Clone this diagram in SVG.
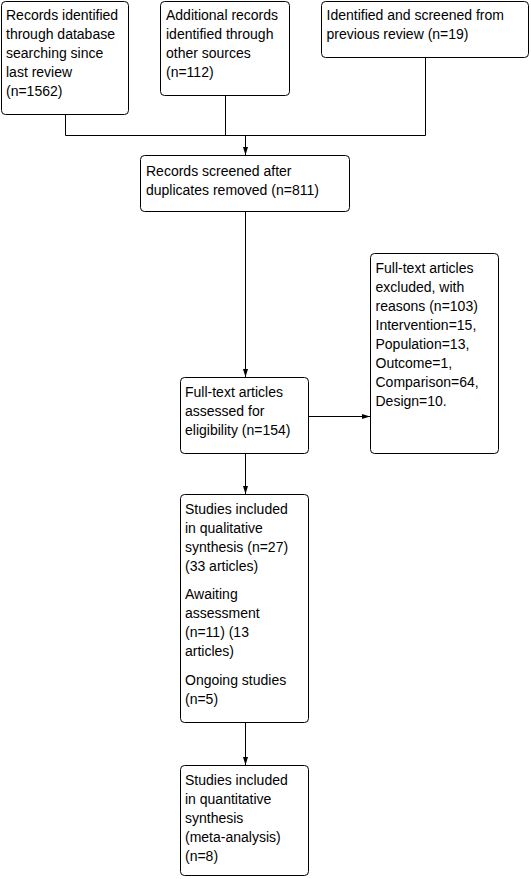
<svg xmlns="http://www.w3.org/2000/svg" width="531" height="879" viewBox="0 0 531 879">
<defs>
<marker id="arr" viewBox="0 0 8 6" refX="8" refY="3" markerWidth="8" markerHeight="6" markerUnits="userSpaceOnUse" orient="auto">
<path d="M0,0.5 L8,3 L0,5.5 Z" fill="#000"/>
</marker>
</defs>
<style>
rect.box{fill:#fff;stroke:#000;stroke-width:1}
text{font-family:"Liberation Sans",Arial,sans-serif;font-size:14px;fill:#000}
.ln{fill:none;stroke:#000;stroke-width:1}
</style>
<rect width="531" height="879" fill="#fff"/>
<g id="connectors">
<path class="ln" d="M65.5,114.5 V135.5 M225.5,95.5 V135.5 M425.5,57.5 V135.5 M65.5,135.5 H425.5"/>
<path class="ln" d="M245.5,135.5 V155" marker-end="url(#arr)"/>
<path class="ln" d="M245.5,211.5 V377" marker-end="url(#arr)"/>
<path class="ln" d="M308.5,416.5 H370" marker-end="url(#arr)"/>
<path class="ln" d="M245.5,453.5 V494" marker-end="url(#arr)"/>
<path class="ln" d="M245.5,722.5 V765" marker-end="url(#arr)"/>
</g>
<g id="n1">
<rect class="box" x="1.5" y="1.5" width="127" height="113" rx="4"/>
<text x="6" y="20">Records identified</text>
<text x="6" y="39">through database</text>
<text x="6" y="58">searching since</text>
<text x="6" y="77">last review</text>
<text x="6" y="96">(n=1562)</text>
</g>
<g id="n2">
<rect class="box" x="160.5" y="1.5" width="129" height="94" rx="4"/>
<text x="166" y="20">Additional records</text>
<text x="166" y="39">identified through</text>
<text x="166" y="58">other sources</text>
<text x="166" y="77">(n=112)</text>
</g>
<g id="n3">
<rect class="box" x="321.5" y="1.5" width="207" height="56" rx="4"/>
<text x="326.5" y="20">Identified and screened from</text>
<text x="326.5" y="39">previous review (n=19)</text>
</g>
<g id="n4">
<rect class="box" x="140.5" y="155.5" width="209" height="56" rx="4"/>
<text x="146" y="176">Records screened after</text>
<text x="146" y="195">duplicates removed (n=811)</text>
</g>
<g id="n5">
<rect class="box" x="180.5" y="377.5" width="128" height="76" rx="4"/>
<text x="185" y="397">Full-text articles</text>
<text x="185" y="416">assessed for</text>
<text x="185" y="435">eligibility (n=154)</text>
</g>
<g id="n6">
<rect class="box" x="370.5" y="253.5" width="128" height="200" rx="4"/>
<text x="375.5" y="273">Full-text articles</text>
<text x="375.5" y="292">excluded, with</text>
<text x="375.5" y="311">reasons (n=103)</text>
<text x="375.5" y="330">Intervention=15,</text>
<text x="375.5" y="349">Population=13,</text>
<text x="375.5" y="368">Outcome=1,</text>
<text x="375.5" y="387">Comparison=64,</text>
<text x="375.5" y="406">Design=10.</text>
</g>
<g id="n7">
<rect class="box" x="180.5" y="494.5" width="128" height="228" rx="4"/>
<text x="185" y="514">Studies included</text>
<text x="185" y="533">in qualitative</text>
<text x="185" y="552">synthesis (n=27)</text>
<text x="185" y="571">(33 articles)</text>
<text x="185" y="599">Awaiting</text>
<text x="185" y="618">assessment</text>
<text x="185" y="637">(n=11) (13</text>
<text x="185" y="656">articles)</text>
<text x="185" y="685">Ongoing studies</text>
<text x="185" y="704">(n=5)</text>
</g>
<g id="n8">
<rect class="box" x="180.5" y="765.5" width="128" height="110" rx="4"/>
<text x="185" y="785">Studies included</text>
<text x="185" y="804">in quantitative</text>
<text x="185" y="823">synthesis</text>
<text x="185" y="842">(meta-analysis)</text>
<text x="185" y="861">(n=8)</text>
</g>
</svg>
